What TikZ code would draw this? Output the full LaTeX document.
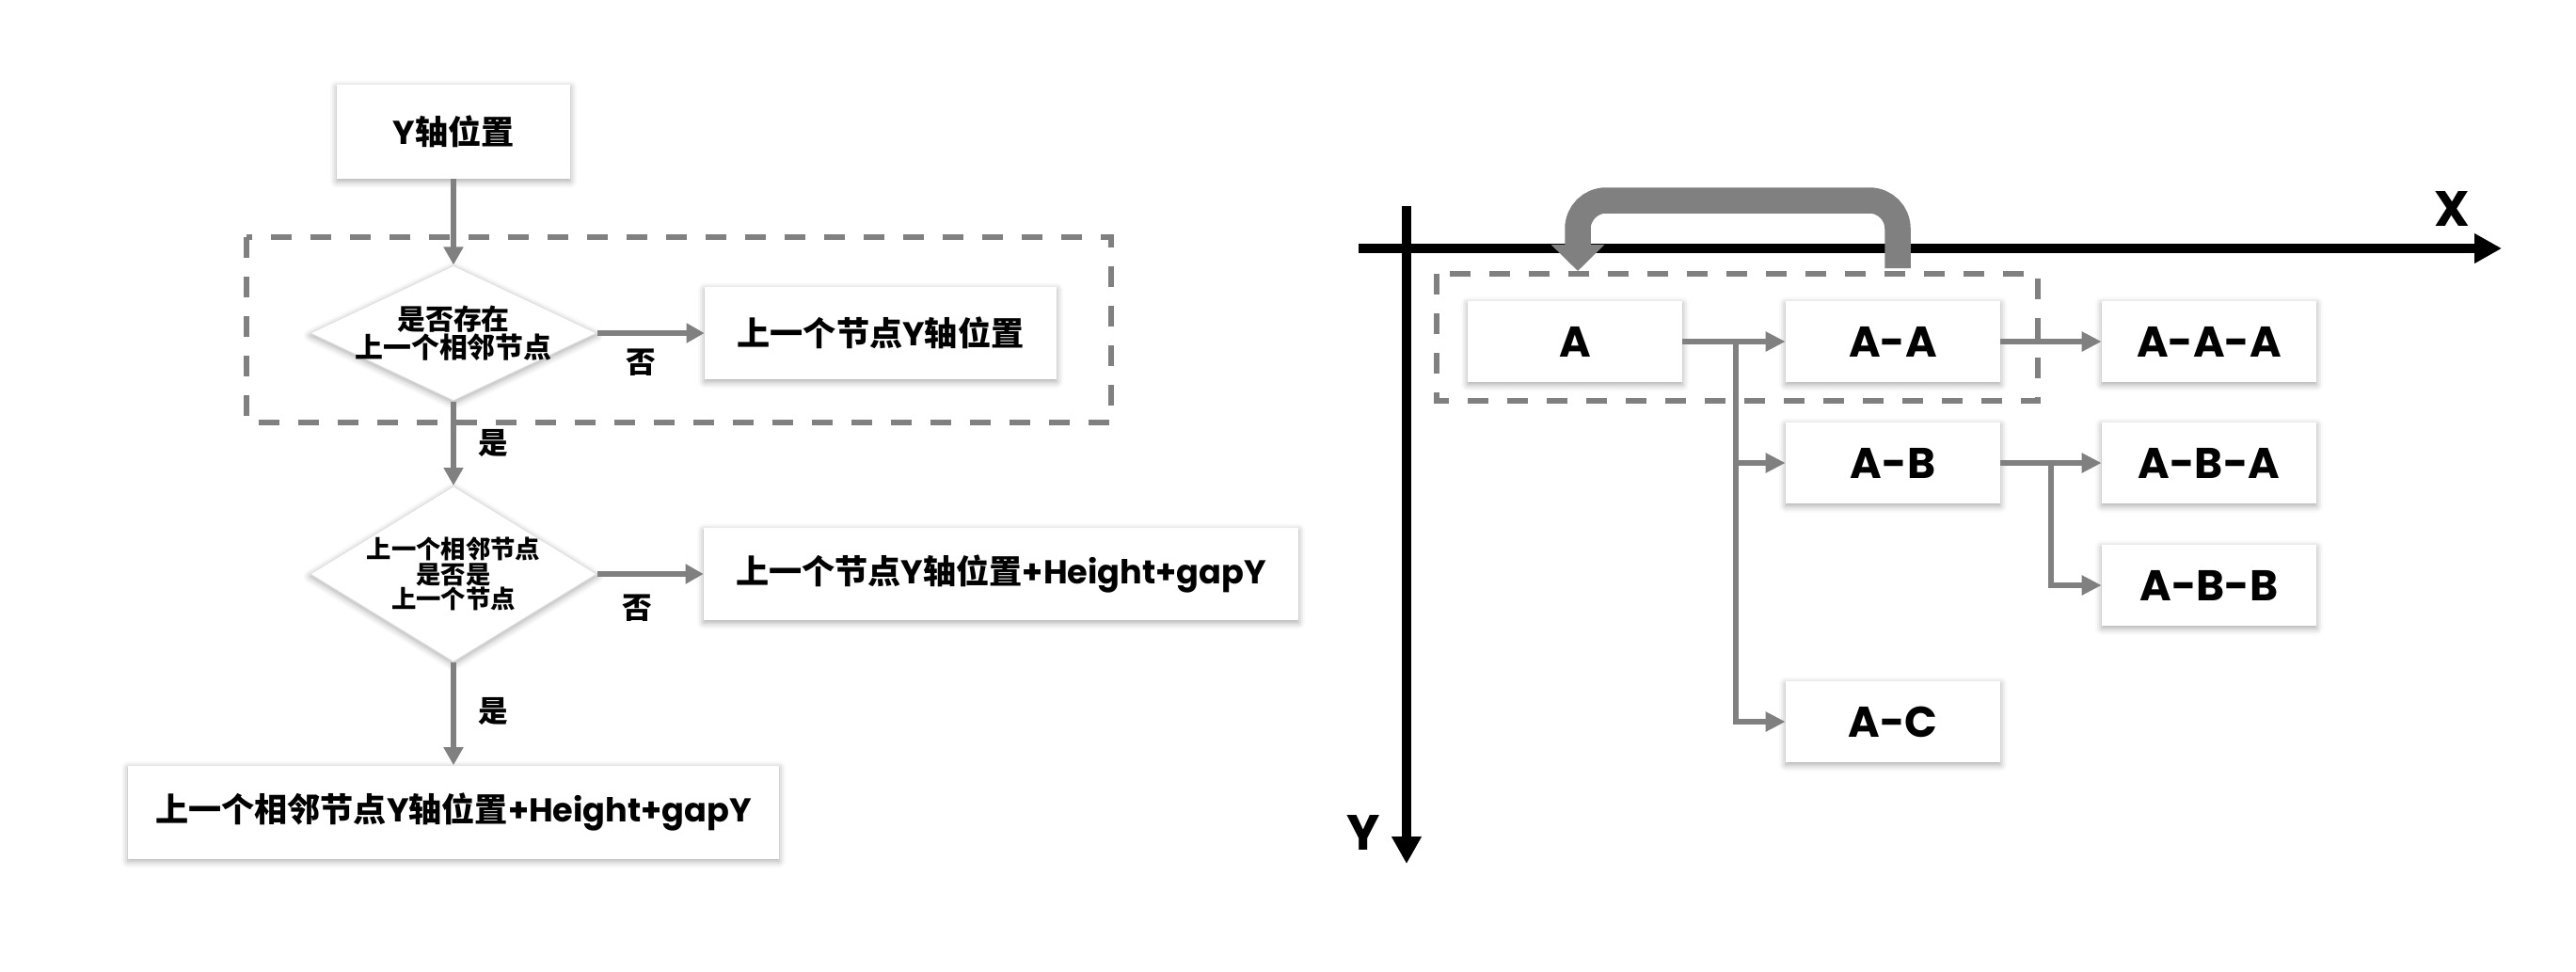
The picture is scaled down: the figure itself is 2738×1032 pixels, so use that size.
\documentclass[tikz,border=0pt]{standalone}
\usepackage{fontspec}
\setmainfont{Poppins}
\newfontfamily\cjk{Noto Sans CJK SC}
\usetikzlibrary{arrows.meta,shapes.geometric,shadows.blur}
\definecolor{lg}{HTML}{808080}
\newcommand\zh[1]{{\cjk #1}}
\begin{document}
\begin{tikzpicture}[x=0.02cm,y=-0.02cm,
  shd/.style={blur shadow={shadow xshift=0pt,shadow yshift=-1.5pt,shadow blur radius=4pt,shadow opacity=35}},
  box/.style={shd, fill=white, inner sep=0pt, font=\bfseries\fontsize{20}{24}\selectfont},
  rbox/.style={shd, fill=white, inner sep=0pt, minimum width=4.56cm, minimum height=1.72cm, font=\bfseries\fontsize{26}{30}\selectfont},
  dia/.style={diamond, shd, fill=white, draw=black!12, line width=0.6pt, inner sep=0pt, aspect=1},
  diatext/.style={align=center, inner sep=0pt},
  conn/.style={draw=lg, line width=0.11cm, -{Triangle[length=0.38cm,width=0.4cm]}},
  conn2/.style={draw=lg, line width=0.12cm, -{Triangle[length=0.42cm,width=0.4cm]}},
  grp/.style={draw=lg, line width=0.11cm, dash pattern=on 0.44cm off 0.40cm},
  lbl/.style={font=\bfseries\fontsize{18}{20}\selectfont},
  axis/.style={draw=black, line width=0.19cm, -{Triangle[length=0.58cm,width=0.6cm]}},
  axl/.style={font=\bfseries\fontsize{30}{32}\selectfont}
]
\useasboundingbox (0,0) rectangle (2738,1032);

% ---------- left flowchart ----------
\draw[grp] (262,252) rectangle (1181,449);
\node[box, minimum width=4.96cm, minimum height=2cm] (ypos) at (482,140) {Y\zh{轴位置}};
\node[dia, minimum width=6.1cm, minimum height=2.88cm] (d1) at (482,354) {};
\node[diatext, font=\bfseries\fontsize{17}{16}\selectfont] (d1t) at (d1) {\zh{是否存在}\\\zh{上一个相邻节点}};
\node[box, minimum width=7.48cm, minimum height=1.96cm] (b2) at (936,354) {\zh{上一个节点}Y\zh{轴位置}};
\node[dia, minimum width=6.1cm, minimum height=3.74cm] (d2) at (482,610) {};
\node[diatext, font=\bfseries\fontsize{15}{15}\selectfont] (d2t) at (d2) {\zh{上一个相邻节点}\\\zh{是否是}\\\zh{上一个节点}};
\node[box, minimum width=12.64cm, minimum height=1.96cm] (b3) at (1064,610) {\zh{上一个节点}Y\zh{轴位置}+Height+gapY};
\node[box, minimum width=13.84cm, minimum height=1.98cm] (b4) at (482,863) {\zh{上一个相邻节点}Y\zh{轴位置}+Height+gapY};

\draw[conn] (ypos) -- (d1);
\draw[conn] (d1) -- (b2);
\draw[conn] (d1) -- (d2);
\draw[conn] (d2) -- (b3);
\draw[conn] (d2) -- (b4);

\node[lbl] (no1) at (681,385) {\zh{否}};
\node[lbl] (yes1) at (524,471) {\zh{是}};
\node[lbl] (no2) at (677,646) {\zh{否}};
\node[lbl] (yes2) at (524,756) {\zh{是}};

% ---------- right tree ----------
\coordinate (xs) at (1444,264);
\coordinate (xe) at (2659,264);
\coordinate (ys) at (1495,219);
\coordinate (ye) at (1495,918);
\draw[axis] (xs) -- (xe);
\draw[axis] (ys) -- (ye);
\node[axl] (xl) at (2606,222) {X};
\node[axl] (yl) at (1449,885) {Y};

\draw[grp] (1527,291) rectangle (2166,426);

\node[rbox] (A) at (1674,363) {A};
\node[rbox] (AA) at (2012,363) {A-A};
\node[rbox] (AAA) at (2348,363) {A-A-A};
\node[rbox] (AB) at (2012,492) {A-B};
\node[rbox] (ABA) at (2348,492) {A-B-A};
\node[rbox] (ABB) at (2348,622) {A-B-B};
\node[rbox] (AC) at (2012,767) {A-C};

\coordinate (t1) at (1845,363);
\coordinate (t2) at (2180,492);
\draw[conn2] (A) -- (AA);
\draw[conn2] (t1) |- (AB);
\draw[conn2] (t1) |- (AC);
\draw[conn2] (AA) -- (AAA);
\draw[conn2] (AB) -- (ABA);
\draw[conn2] (t2) |- (ABB);

\coordinate (cs) at (2017,285);
\coordinate (ce) at (1677,288);
\draw[draw=lg, line width=0.55cm, rounded corners=0.6cm, -{Triangle[length=0.56cm,width=1.1cm]}]
  (cs) -- (2017,213) -- (1677,213) -- (ce);
\end{tikzpicture}
\end{document}
